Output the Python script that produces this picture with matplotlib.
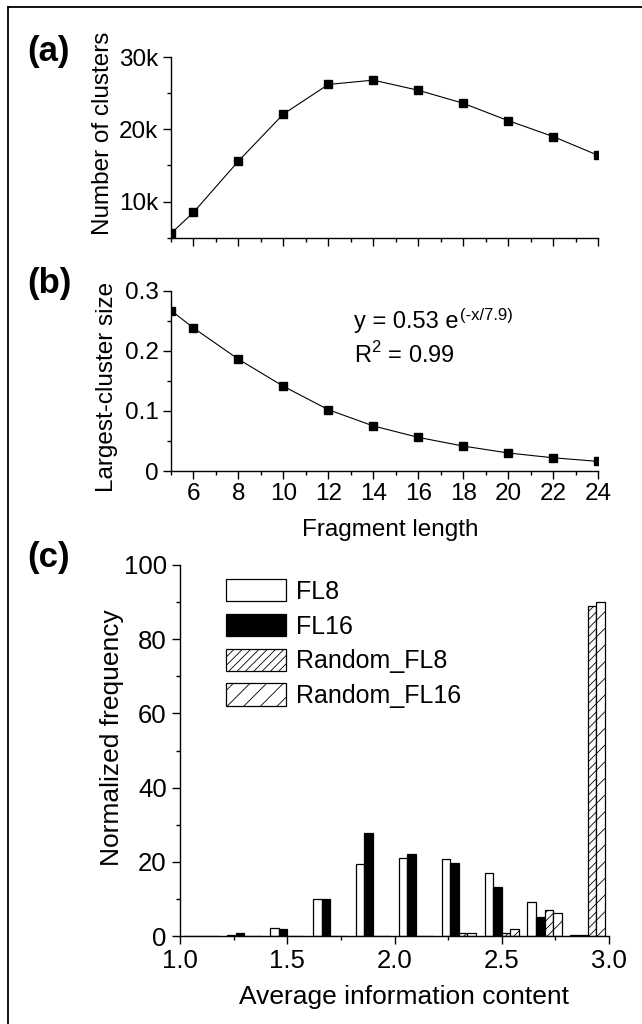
import matplotlib
matplotlib.use('Agg')
import matplotlib.pyplot as plt
from matplotlib.lines import Line2D
from matplotlib.ticker import MultipleLocator, FuncFormatter

plt.rcParams['font.family'] = ['Liberation Sans', 'DejaVu Sans']
plt.rcParams['hatch.linewidth'] = 0.6

# panel (a)/(b) data
frag_len = [5, 6, 8, 10, 12, 14, 16, 18, 20, 22, 24]
n_clusters = [5600, 8500, 15600, 22100, 26200, 26800, 25400, 23600, 21200, 19000, 16400]
largest_size = [0.267, 0.238, 0.186, 0.141, 0.102, 0.075, 0.056, 0.0415, 0.030, 0.022, 0.016]

# panel (c) data
bin_centers = [1.1, 1.3, 1.5, 1.7, 1.9, 2.1, 2.3, 2.5, 2.7, 2.9]
fl8 = [0.1, 0.4, 2.1, 10.0, 19.4, 21.0, 20.7, 17.0, 9.2, 0.4]
fl16 = [0.1, 0.8, 1.8, 10.0, 27.8, 22.1, 19.7, 13.2, 5.1, 0.2]
rand_fl8 = [0, 0, 0, 0, 0, 0, 0.9, 0.9, 6.9, 88.9]
rand_fl16 = [0, 0, 0, 0, 0, 0, 0.9, 2.0, 6.1, 89.9]

W, H = 642, 1024
fig = plt.figure(figsize=(W / 100, H / 100), dpi=100)


def rect(l, t, r, b):
    return [l / W, 1 - b / H, (r - l) / W, (b - t) / H]


def style(ax, size, pad=3.5):
    for s in ('top', 'right'):
        ax.spines[s].set_visible(False)
    for s in ('left', 'bottom'):
        ax.spines[s].set_linewidth(1.0)
    ax.tick_params(which='major', direction='out', length=6, width=1.0,
                   labelsize=size, pad=pad)
    ax.tick_params(which='minor', direction='out', length=3, width=1.0)


# (a)
ax_a = fig.add_axes(rect(171, 57, 598, 237.7))
ax_a.plot(frag_len, n_clusters, 'k-', lw=0.8, marker='s', ms=6)
ax_a.set_xlim(5, 24)
ax_a.set_ylim(5000, 30000)
ax_a.set_xticks(range(6, 25, 2))
ax_a.xaxis.set_minor_locator(MultipleLocator(1))
ax_a.set_yticks([10000, 20000, 30000])
ax_a.yaxis.set_minor_locator(MultipleLocator(5000))
ax_a.yaxis.set_major_formatter(FuncFormatter(lambda v, p: f'{int(v / 1000)}k'))
style(ax_a, 17.5, pad=3)
ax_a.tick_params(axis='x', labelbottom=False)

# (b)
ax_b = fig.add_axes(rect(171, 290.7, 598, 471))
ax_b.plot(frag_len, largest_size, 'k-', lw=0.8, marker='s', ms=6)
ax_b.set_xlim(5, 24)
ax_b.set_ylim(0, 0.3)
ax_b.set_xticks(range(6, 25, 2))
ax_b.xaxis.set_minor_locator(MultipleLocator(1))
ax_b.set_yticks([0, 0.1, 0.2, 0.3])
ax_b.set_yticklabels(['0', '0.1', '0.2', '0.3'])
ax_b.yaxis.set_minor_locator(MultipleLocator(0.05))
style(ax_b, 17.5, pad=3)
eq = fig.text(354 / W, 1 - 328 / H, 'y = 0.53 e', fontsize=17, va='baseline')
ax_b.annotate('(-x/7.9)', xy=(1.0, 1.0), xycoords=eq, xytext=(1, 2),
              textcoords='offset points', ha='left', va='top', fontsize=12)
fig.text(354 / W, 1 - 363 / H, r'R$^\mathregular{2}$ = 0.99', fontsize=17,
         va='baseline')

# (c)
ax_c = fig.add_axes(rect(180, 565, 609, 936))
w = 0.04
ax_c.bar([c - 0.06 for c in bin_centers], fl8, w, color='white', edgecolor='black',
         lw=0.9, label='FL8')
ax_c.bar([c - 0.02 for c in bin_centers], fl16, w, color='black', edgecolor='black',
         lw=0.9, label='FL16')
ax_c.bar([c + 0.02 for c in bin_centers], rand_fl8, w, color='white', edgecolor='black',
         lw=0.9, hatch='////', label='Random_FL8')
ax_c.bar([c + 0.06 for c in bin_centers], rand_fl16, w, color='white', edgecolor='black',
         lw=0.9, hatch='//', label='Random_FL16')
ax_c.set_xlim(1.0, 3.0)
ax_c.set_ylim(0, 100)
ax_c.set_xticks([1.0, 1.5, 2.0, 2.5, 3.0])
ax_c.set_xticklabels(['1.0', '1.5', '2.0', '2.5', '3.0'])
ax_c.xaxis.set_minor_locator(MultipleLocator(0.25))
ax_c.set_yticks(range(0, 101, 20))
ax_c.yaxis.set_minor_locator(MultipleLocator(10))
style(ax_c, 18.5, pad=3.5)
ax_c.legend(loc='upper left', bbox_to_anchor=(226 / W, 1 - 579 / H),
            bbox_transform=fig.transFigure, frameon=False, fontsize=18,
            handlelength=2.4, handleheight=1.0, handletextpad=0.4,
            labelspacing=0.4, borderpad=0, borderaxespad=0)

# axis labels
fig.text(103 / W, 1 - 133 / H, 'Number of clusters', rotation=90,
         ha='center', va='center', fontsize=17.5)
fig.text(107 / W, 1 - 387 / H, 'Largest-cluster size', rotation=90,
         ha='center', va='center', fontsize=17.5)
fig.text(390 / W, 1 - 530 / H, 'Fragment length', ha='center', va='center',
         fontsize=17.5)
fig.text(112 / W, 1 - 738 / H, 'Normalized frequency', rotation=90,
         ha='center', va='center', fontsize=19)
fig.text(404 / W, 1 - 997 / H, 'Average information content', ha='center',
         va='center', fontsize=19)

# panel letters
for lab, y in (('(a)', 51), ('(b)', 283), ('(c)', 558)):
    fig.text(27 / W, 1 - y / H, lab, ha='left', va='center', fontsize=25,
             fontweight='bold')

# frame lines on left and top
fig.add_artist(Line2D([8 / W, 8 / W], [0, 1 - 7 / H], color='black', lw=1.3,
                      transform=fig.transFigure))
fig.add_artist(Line2D([8 / W, 1], [1 - 7 / H, 1 - 7 / H], color='black', lw=1.3,
                      transform=fig.transFigure))

fig.savefig('out.png', dpi=100)
